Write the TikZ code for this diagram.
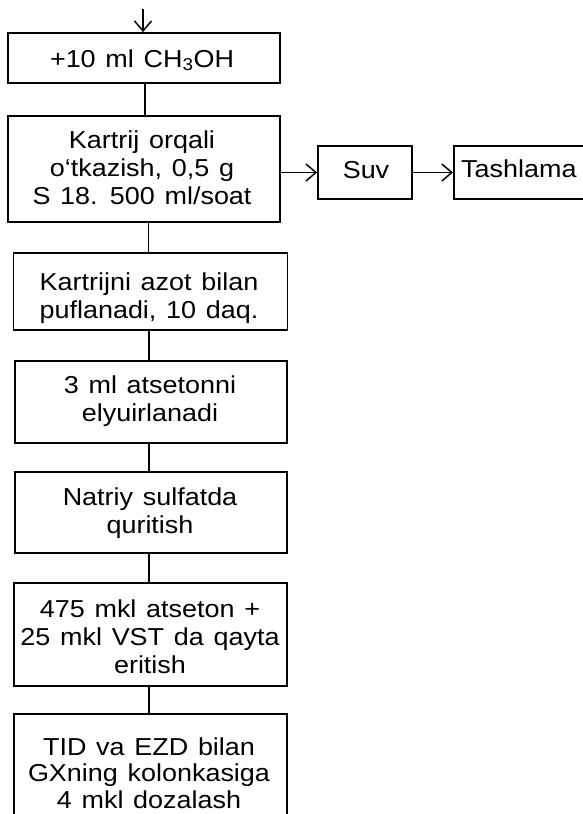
\documentclass[tikz,border=0pt]{standalone}
\usepackage{fontspec}
\setmainfont{Liberation Sans}[FakeStretch=1.1, WordSpace=1.3]
\usetikzlibrary{arrows.meta}
\newcommand\mylines[1]{\begin{tabular}[t]{@{}c@{}}#1\end{tabular}}
\tikzset{
  stepbox/.style={draw, line width=1.8pt, rectangle, inner sep=0pt},
  steptext/.style={anchor=base, inner sep=0pt, font=\fontsize{24.5}{28}\selectfont},
  conn/.style={line width=1.5pt},
  arr/.style={line width=1.5pt, -{Straight Barb[length=10pt,width=17pt,line width=1.5pt]}}
}
\begin{document}
\begin{tikzpicture}[x=1pt,y=-1pt]
\useasboundingbox (0,0) rectangle (583,814);
\clip (0,0) rectangle (583,814);
% boxes
\node[stepbox, minimum width=272pt, minimum height=50pt] (b1) at (144,58) {};
\node[stepbox, minimum width=272pt, minimum height=106pt] (b2) at (144,169) {};
\node[stepbox, minimum width=94pt, minimum height=53pt] (suv) at (365,172.5) {};
\node[stepbox, anchor=west, minimum width=167pt, minimum height=53pt] (tash) at (453,172.5) {};
\node[stepbox, minimum width=274pt, minimum height=77pt] (b3) at (150.5,291.5) {};
\node[stepbox, minimum width=272pt, minimum height=82pt] (b4) at (151,402) {};
\node[stepbox, minimum width=272pt, minimum height=81pt] (b5) at (151,512.5) {};
\node[stepbox, minimum width=273pt, minimum height=103pt] (b6) at (150.5,634.5) {};
\node[stepbox, minimum width=273pt, minimum height=116pt] (b7) at (150.5,772) {};
% texts
\node[steptext] (t1) at (142,67) {+10 ml CH\textsubscript{3}OH};
\node[steptext] (t2) at (142,148) {\mylines{Kartrij orqali\\o‘tkazish, 0,5 g\\S 18. 500 ml/soat}};
\node[steptext] (tsuv) at (366,178) {Suv};
\node[steptext, anchor=base west] (ttash) at (461,177) {Tashlama};
\node[steptext] (t3) at (149,290) {\mylines{Kartrijni azot bilan\\puflanadi, 10 daq.}};
\node[steptext] (t4) at (150,393) {\mylines{3 ml atsetonni\\elyuirlanadi}};
\node[steptext] (t5) at (150,505) {\mylines{Natriy sulfatda\\quritish}};
\node[steptext] (t6) at (150,617) {\mylines{475 mkl atseton +\\25 mkl VST da qayta\\eritish}};
\node[steptext, anchor=north, align=center, font=\fontsize{24.5}{26.5}\selectfont] (t7) at (149,737.5) {TID va EZD bilan\\GXning kolonkasiga\\4 mkl dozalash};
% connectors
\coordinate (start) at (143,9);
\draw[arr] (start) -- (start |- b1.north);
\draw[conn] ([xshift=1pt]b1.south) -- ([xshift=1pt]b1.south |- b2.north);
\draw[conn] ([xshift=-2pt]b3.north |- b2.south) -- ([xshift=-2pt]b3.north);
\draw[conn] ([xshift=-2pt]b4.north |- b3.south) -- ([xshift=-2pt]b4.north);
\draw[conn] ([xshift=-2pt]b5.north |- b4.south) -- ([xshift=-2pt]b5.north);
\draw[conn] ([xshift=-1.5pt]b6.north |- b5.south) -- ([xshift=-1.5pt]b6.north);
\draw[conn] ([xshift=-1.5pt]b7.north |- b6.south) -- ([xshift=-1.5pt]b7.north);
\draw[arr] (b2.east |- suv.west) -- (suv.west);
\draw[arr] (suv.east) -- (tash.west);
\end{tikzpicture}
\end{document}
